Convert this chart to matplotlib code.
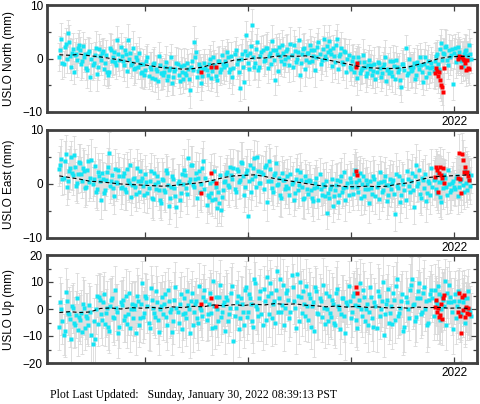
import numpy as np
import matplotlib
matplotlib.use('Agg')
import matplotlib.pyplot as plt
from matplotlib.ticker import MultipleLocator

plt.rcParams['font.family'] = ['Liberation Sans', 'DejaVu Sans']

# ---------------- data ----------------
# two interleaved sets of final (cyan) solutions, decimal years span
t_start_a, t_end_a = 2018.17, 2022.15
t_start_b, t_end_b = 2018.18, 2022.16

north_vals_a = [
    0.3, 3.6, -1.0, 2.8, 4.7, 0.5, 1.0, -2.6, 0.8, 2.0,
    1.6, -0.5, 0.2, -1.8, 1.0, -3.5, -1.2, 0.6, -2.9, 1.8,
    -0.3, 1.4, -0.8, -2.6, -2.5, 1.6, 0.2, -0.6, 3.4, -0.2,
    0.5, -1.3, 0.8, 3.4, 1.0, -0.8, -2.0, 0.2, -1.5, -1.0,
    -2.5, -3.1, -0.5, -3.3, -2.0, -1.0, -3.8, -2.4, 0.5, -2.7,
    -3.0, -1.5, -4.0, -2.2, 0.2, -3.5, -2.0, -1.0, -4.2, -2.6,
    -1.2, -3.0, -2.0, -5.8, -0.5, 3.1, 1.2, -2.4, -1.5, -3.2,
    -0.8, -2.2, -1.0, -3.6, 0.3, -1.6, -4.0, -0.5, -2.0, -1.0,
    -0.5, 1.2, -2.5, 0.4, -1.8, 1.5, -0.3, -5.5, 0.8, -4.4,
    4.4, -0.8, 1.0, 6.2, -1.5, 1.8, -2.2, 0.5, 1.5, -0.2,
    2.0, 0.5, -1.0, 1.5, -4.0, 0.8, 2.2, -0.5, 1.0, 0.0,
    1.8, -1.2, 0.6, 2.5, -0.6, 1.2, -3.0, 0.9, 2.0, -0.3,
    1.0, 2.6, -0.4, 1.5, 0.2, 3.0, -1.0, 1.8, 0.5, 2.4,
    3.2, 0.8, 1.9, -0.6, 3.6, 0.4, 2.0, -1.0, 1.2, 0.0,
    -1.5, -0.4, -2.5, -1.0, 0.2, -2.8, -1.8, -0.6, -3.2, -1.2,
    -2.0, -3.0, -1.0, -2.6, -0.8, -3.5, -1.5, 0.2, -2.2, -2.8,
    -2.5, -0.5, -3.8, -1.5, -2.0, -5.4, -1.0, 1.9, -2.8, -1.6,
    -2.2, -0.8, -3.0, -1.2, 0.3, -2.5, -1.0, -3.5, -0.4, -1.8,
    -1.5, -0.5, 0.8, -2.0, 2.9, 1.0, 2.2, -0.3, 1.5, 0.6,
    -4.8, 2.0, 0.5, 1.2, -0.5, 0.8, 1.6, 0.0, 0.9]
north_vals_b = [
    1.5, -0.8, 2.2, 0.0, 3.0, -1.5, 1.8, 0.6, -0.3, 2.6,
    -1.0, 2.3, 0.8, -2.2, 1.4, 0.0, -0.9, 2.0, -1.6, 0.4,
    1.0, -1.9, 0.6, -3.0, 2.0, -0.4, 1.2, -1.2, 0.9, 2.2,
    -0.5, 1.6, -2.4, 0.0, -1.2, 2.0, -1.8, -0.2, 1.0, -2.8,
    -1.0, -2.2, 0.2, -1.6, -3.6, -0.8, -2.0, -4.2, -1.2, -2.8,
    -2.5, -0.6, -3.3, -1.8, -4.5, -2.4, -0.8, -3.0, -1.4, -3.8,
    -2.8, -0.8, -3.8, -1.6, -2.2, 0.2, -3.4, -1.0, -4.6, -2.0,
    -1.8, -3.0, 0.0, -2.4, -1.2, -3.2, -0.4, -2.6, 0.6, -1.6,
    -1.2, 0.3, -2.0, -3.4, 0.8, -1.0, -2.6, 0.0, -1.6, 1.4,
    0.6, -2.0, 2.4, 0.2, -0.8, 3.0, -1.6, 1.2, -0.4, 2.0,
    -1.8, 1.0, 3.2, -0.2, 1.6, -2.4, 0.4, 2.6, -1.0, 1.4,
    0.2, 2.8, -1.6, 1.4, 0.0, 3.4, -0.8, 1.8, -2.0, 1.0,
    -0.6, 1.6, 0.4, -2.2, 2.2, 0.8, -0.2, 3.6, 0.0, 1.2,
    1.6, -1.4, 0.4, 2.6, -2.0, 0.8, -0.6, 1.4, -2.6, 0.6,
    -2.0, 0.2, -1.4, -3.6, -0.6, -2.2, 0.6, -1.6, -2.8, -0.2,
    -1.2, -2.4, -3.8, -0.6, -1.8, -2.8, -1.0, -4.2, -2.0, -0.4,
    -3.2, -1.4, -0.2, -2.6, -4.0, -1.0, -2.2, -3.0, 0.0, -2.4,
    -1.6, -3.8, -0.6, -2.0, -1.2, -4.4, 0.2, -1.6, -2.8, -0.8,
    -2.4, 0.4, -1.0, 1.8, -0.2, 0.8, 2.4, -1.2, 0.2, 1.8,
    1.0, -0.6, 2.2, 0.2, -1.4, 1.4, 0.6, 2.6, 0.0]

north_err_a = [
    2.6, 3.1, 2.4, 2.9, 2.5, 3.3, 2.7, 2.2, 3.0, 2.8,
    2.5, 3.2, 2.7, 2.3, 3.0, 2.6, 2.9, 2.4, 3.1, 2.7,
    2.8, 2.4, 3.0, 2.6, 2.5, 2.9, 3.2, 2.3, 2.7, 3.0,
    2.6, 2.9, 2.4, 3.1, 2.8, 2.5, 3.0, 2.7, 2.3, 2.9,
    3.0, 2.6, 2.8, 2.4, 3.2, 2.7, 2.5, 2.9, 2.6, 3.1,
    2.7, 2.4, 3.0, 2.8, 2.5, 3.3, 2.6, 2.9, 2.4, 2.8,
    3.1, 2.6, 2.8, 3.4, 2.5, 2.9, 2.7, 3.0, 2.4, 2.8,
    2.6, 3.0, 2.7, 2.5, 2.9, 2.4, 3.1, 2.8, 2.6, 3.0,
    2.8, 2.5, 3.0, 2.7, 3.2, 2.6, 2.9, 2.4, 2.8, 3.1,
    2.7, 3.3, 2.6, 3.0, 2.5, 2.8, 3.1, 2.4, 2.9, 2.7,
    3.0, 2.6, 2.9, 2.4, 2.8, 3.2, 2.5, 2.7, 3.0, 2.6,
    2.8, 3.1, 2.5, 2.9, 2.7, 2.4, 3.0, 2.6, 2.8, 3.2,
    2.6, 2.9, 3.1, 2.5, 2.8, 2.7, 3.0, 2.4, 2.9, 2.6,
    3.0, 2.7, 2.5, 3.2, 2.8, 2.6, 2.9, 3.1, 2.4, 2.8,
    2.7, 3.0, 2.6, 2.9, 2.5, 3.1, 2.8, 2.4, 3.0, 2.7,
    2.9, 2.5, 3.2, 2.7, 3.0, 2.6, 2.8, 3.3, 2.5, 2.9,
    2.6, 3.0, 2.8, 2.5, 3.1, 2.7, 2.9, 2.4, 3.0, 2.8,
    3.1, 2.7, 2.5, 2.9, 2.6, 3.2, 2.8, 2.4, 3.0, 2.7,
    2.8, 3.4, 2.6, 3.0, 2.7, 2.9, 3.3, 2.5, 3.1, 2.8,
    3.0, 2.6, 3.2, 2.8, 2.5, 3.1, 2.7, 2.9, 3.0]
north_err_b = [
    2.7, 3.0, 2.5, 2.8, 3.2, 2.6, 2.9, 2.4, 3.1, 2.7,
    3.0, 2.6, 2.8, 3.3, 2.5, 2.9, 2.7, 3.1, 2.4, 2.8,
    2.6, 3.1, 2.9, 2.5, 2.8, 3.0, 2.4, 2.7, 3.2, 2.6,
    2.9, 2.5, 3.0, 2.7, 2.4, 3.2, 2.8, 2.6, 3.0, 2.5,
    2.8, 3.1, 2.6, 2.9, 2.5, 3.0, 2.7, 3.3, 2.5, 2.9,
    2.6, 2.9, 2.7, 3.1, 2.4, 2.8, 3.0, 2.6, 3.2, 2.7,
    2.9, 2.5, 3.2, 2.7, 3.0, 2.4, 2.8, 2.6, 3.1, 2.9,
    2.7, 2.9, 2.5, 3.1, 2.8, 3.0, 2.6, 2.4, 2.9, 3.2,
    3.0, 2.7, 2.6, 3.2, 2.5, 2.8, 3.1, 2.7, 2.5, 2.9,
    2.6, 3.0, 2.8, 2.5, 3.1, 2.7, 2.4, 3.0, 2.8, 2.6,
    2.8, 2.5, 3.1, 2.7, 2.9, 2.6, 3.3, 2.8, 2.5, 3.0,
    2.7, 3.0, 2.6, 2.8, 3.2, 2.5, 2.9, 2.7, 3.1, 2.4,
    3.0, 2.6, 2.8, 3.1, 2.5, 2.9, 2.7, 2.6, 3.2, 2.8,
    2.6, 2.9, 3.1, 2.7, 2.5, 3.0, 2.8, 2.4, 2.9, 3.1,
    2.9, 2.6, 2.8, 3.2, 2.7, 2.5, 3.0, 2.9, 2.6, 2.8,
    2.7, 3.1, 2.6, 2.9, 2.5, 2.8, 3.2, 2.7, 3.0, 2.6,
    3.0, 2.7, 2.5, 3.0, 2.8, 2.6, 3.1, 2.9, 2.5, 3.2,
    2.8, 2.6, 3.1, 2.7, 3.0, 2.5, 2.9, 3.2, 2.7, 2.9,
    3.1, 2.7, 2.9, 2.6, 3.3, 2.8, 3.0, 2.7, 3.2, 2.6,
    2.9, 3.1, 2.7, 3.0, 2.8, 3.2, 2.6, 3.0, 2.8]

east_vals_a = [
    2.8, 4.6, 1.2, 5.5, 0.6, 3.0, 2.0, 5.3, -0.3, 1.8,
    3.8, 0.5, 2.4, -0.5, 4.2, 1.2, 0.0, 3.3, -1.0, 1.5,
    -3.0, 1.0, -1.2, 2.2, 5.8, 0.5, -0.8, 2.8, 0.2, 1.5,
    -0.6, 2.0, -1.5, 0.8, 3.5, -0.2, 1.2, -1.8, 0.5, 2.5,
    1.2, -2.0, 0.3, -0.8, 2.4, -2.8, 0.0, 1.5, -1.2, -3.5,
    0.8, -1.5, 2.0, -4.0, -0.5, 1.0, -2.2, 0.2, -3.0, 1.8,
    2.6, -0.8, 4.8, 1.0, 3.5, -0.5, 2.0, 1.2, -1.5, 3.0,
    -1.0, -3.9, -2.4, -1.7, 0.5, -2.8, -4.4, -3.5, -4.8, -1.2,
    0.5, 2.2, -0.5, 1.6, 3.0, -1.5, 2.5, 0.8, 3.8, -2.0,
    2.0, -6.0, 3.5, 1.0, 4.8, -0.5, 2.5, 0.2, 1.8, 3.2,
    -3.4, 4.2, 0.5, -1.5, 2.0, -0.2, 1.2, -2.5, 0.8, -1.0,
    1.5, -2.0, 0.0, -3.0, 1.0, -1.2, 2.2, -0.6, -2.5, 0.6,
    -1.8, 0.5, -2.5, -0.8, 1.2, -3.0, -1.0, 0.0, -2.2, -5.3,
    -2.6, -0.3, -4.0, -1.2, 0.8, -2.0, 1.5, -0.8, -3.0, 0.2,
    1.2, -0.5, 1.8, 0.4, -1.5, 2.0, 0.0, -2.2, 0.8, -1.0,
    0.5, -1.8, 1.0, -0.6, -2.8, 0.3, -1.2, 1.5, -3.2, -0.2,
    -1.0, 0.8, -5.6, -0.4, 1.5, -2.0, 0.0, -3.0, 1.0, -1.5,
    2.0, -4.3, 3.5, 0.2, -1.8, 1.2, -0.8, -3.2, 0.5, -2.0,
    -0.5, 1.0, -1.7, 0.3, -3.4, -0.8, 1.2, -2.0, 0.0, -1.2,
    0.5, -1.0, 1.5, -0.5, 1.0, -1.5, 0.2, 2.0, -0.3]
east_vals_b = [
    3.6, 1.0, 4.2, -0.5, 2.5, 5.0, 1.6, 3.2, 0.2, 4.0,
    1.8, 3.0, -0.8, 2.6, 0.4, 4.5, 1.0, -1.4, 2.2, 0.6,
    2.0, -1.6, 0.8, 3.2, -0.4, 1.6, -2.2, 0.4, 2.6, -0.8,
    1.4, -1.0, 2.8, 0.2, -2.4, 1.0, -0.6, 3.0, -1.4, 0.6,
    -0.4, 1.8, -1.6, 0.6, -2.6, 2.0, -1.0, 0.4, -3.0, 1.0,
    -1.2, 2.6, -0.2, -2.6, 1.4, -0.8, -4.2, 0.6, -1.6, 0.0,
    1.6, -1.8, 0.4, 3.6, -0.2, 1.0, -2.6, 2.4, 0.0, 4.2,
    1.2, -2.0, 0.2, -3.0, 2.4, -0.6, -1.4, 1.6, -2.4, 0.4,
    1.8, -0.2, 3.2, 1.0, -1.0, 2.8, 0.4, 4.0, 1.4, -0.6,
    2.6, 0.6, -1.4, 3.0, 1.4, 5.0, 0.2, 2.2, -1.0, 3.6,
    0.6, 2.8, -0.8, 1.6, 3.8, 0.0, -2.0, 2.0, 0.8, -0.4,
    -0.8, 1.8, 0.4, -1.6, 2.6, -0.2, 0.8, -2.8, 1.4, -1.0,
    0.8, -1.2, -3.2, 0.2, -0.6, 1.8, -2.0, -0.4, 0.6, -1.6,
    -1.0, 1.0, -2.2, -0.2, -3.4, 0.6, -1.4, 2.2, -0.6, -2.0,
    0.4, -1.8, 2.6, -0.6, 0.8, -2.6, 1.4, -1.0, 0.0, -3.6,
    -0.8, 1.4, -2.2, 0.2, 2.2, -1.4, 0.6, -0.2, -2.0, 1.0,
    0.2, -1.8, 1.8, -0.8, -3.4, 0.8, -1.2, 2.4, -0.4, 0.6,
    -1.2, 1.4, -0.4, 2.6, -2.6, 0.8, 1.8, -1.6, 0.2, 3.0,
    0.8, -1.0, 2.0, -2.4, 0.4, 1.6, -0.6, 2.6, -1.4, 0.2,
    -0.6, 1.2, -2.2, 0.6, -0.2, 2.4, -1.2, 0.8, 1.6]

east_err_a = [
    3.2, 3.8, 3.0, 3.5, 3.3, 4.0, 3.1, 3.6, 2.9, 3.4,
    3.6, 3.1, 3.9, 3.3, 3.0, 3.7, 3.2, 3.5, 3.8, 3.1,
    3.4, 3.0, 3.6, 3.2, 3.9, 3.3, 3.1, 3.7, 3.0, 3.5,
    3.1, 3.5, 3.3, 3.8, 3.0, 3.4, 3.6, 3.2, 3.9, 3.3,
    3.5, 3.2, 3.0, 3.6, 3.3, 3.9, 3.1, 3.4, 3.7, 3.2,
    3.3, 3.7, 3.1, 3.4, 3.0, 3.8, 3.2, 3.5, 3.1, 3.6,
    3.8, 3.2, 3.5, 3.0, 3.6, 3.3, 3.9, 3.1, 3.4, 3.7,
    3.0, 3.4, 3.2, 3.7, 3.1, 3.5, 3.3, 3.8, 3.0, 3.6,
    3.4, 3.1, 3.8, 3.2, 3.5, 3.0, 3.6, 3.3, 3.9, 3.2,
    3.2, 3.6, 3.0, 3.9, 3.3, 3.5, 3.1, 3.7, 3.4, 3.0,
    3.5, 3.2, 3.7, 3.1, 3.4, 3.8, 3.0, 3.6, 3.3, 3.5,
    3.1, 3.6, 3.3, 3.0, 3.8, 3.2, 3.5, 3.4, 3.9, 3.1,
    3.6, 3.0, 3.4, 3.7, 3.2, 3.5, 3.1, 3.8, 3.3, 3.0,
    3.3, 3.8, 3.1, 3.5, 3.0, 3.6, 3.4, 3.2, 3.9, 3.5,
    3.0, 3.5, 3.7, 3.2, 3.4, 3.1, 3.8, 3.3, 3.6, 3.0,
    3.7, 3.2, 3.4, 3.0, 3.6, 3.9, 3.1, 3.5, 3.3, 3.8,
    3.2, 3.5, 3.1, 3.8, 3.0, 3.4, 3.7, 3.3, 3.6, 3.1,
    3.6, 3.1, 3.9, 3.3, 3.5, 3.0, 3.4, 3.8, 3.2, 3.5,
    3.4, 3.9, 3.2, 3.6, 3.1, 3.8, 3.3, 3.5, 3.0, 3.7,
    3.5, 3.0, 3.7, 3.3, 3.9, 3.2, 3.6, 3.1, 3.4]
east_err_b = [
    3.5, 3.1, 3.7, 3.3, 3.9, 3.0, 3.6, 3.2, 3.8, 3.4,
    3.2, 3.7, 3.4, 3.0, 3.6, 3.9, 3.3, 3.1, 3.5, 3.8,
    3.7, 3.3, 3.0, 3.5, 3.2, 3.8, 3.4, 3.6, 3.1, 3.9,
    3.4, 3.8, 3.2, 3.6, 3.3, 3.0, 3.7, 3.5, 3.1, 3.6,
    3.1, 3.5, 3.8, 3.2, 3.7, 3.4, 3.0, 3.6, 3.3, 3.9,
    3.6, 3.0, 3.4, 3.8, 3.2, 3.5, 3.7, 3.1, 3.4, 3.3,
    3.3, 3.7, 3.1, 3.5, 3.9, 3.2, 3.6, 3.4, 3.0, 3.8,
    3.5, 3.2, 3.8, 3.0, 3.4, 3.7, 3.1, 3.5, 3.6, 3.2,
    3.1, 3.6, 3.3, 3.9, 3.0, 3.5, 3.2, 3.8, 3.4, 3.7,
    3.8, 3.3, 3.5, 3.1, 3.7, 3.0, 3.6, 3.2, 3.9, 3.4,
    3.2, 3.8, 3.0, 3.6, 3.3, 3.5, 3.9, 3.1, 3.7, 3.3,
    3.6, 3.4, 3.7, 3.2, 3.0, 3.8, 3.3, 3.5, 3.1, 3.6,
    3.3, 3.1, 3.6, 3.4, 3.8, 3.0, 3.7, 3.2, 3.5, 3.9,
    3.7, 3.5, 3.2, 3.9, 3.1, 3.4, 3.0, 3.6, 3.3, 3.2,
    3.4, 3.0, 3.8, 3.3, 3.6, 3.2, 3.5, 3.9, 3.1, 3.7,
    3.1, 3.7, 3.3, 3.5, 3.0, 3.6, 3.4, 3.2, 3.8, 3.5,
    3.5, 3.2, 3.9, 3.1, 3.6, 3.3, 3.0, 3.7, 3.4, 3.8,
    3.3, 3.6, 3.0, 3.7, 3.2, 3.9, 3.5, 3.1, 3.6, 3.4,
    3.6, 3.2, 3.5, 3.8, 3.3, 3.1, 3.7, 3.4, 3.9, 3.2,
    3.2, 3.7, 3.4, 3.0, 3.6, 3.5, 3.1, 3.8, 3.3]

up_vals_a = [
    -6.5, 0.0, -9.5, 6.3, -1.5, -3.8, 1.0, -5.0, -2.2, -7.8,
    -4.0, -8.5, 0.5, -2.5, -6.0, -1.0, -12.8, -11.0, 4.8, 4.5,
    -2.0, 2.5, -5.5, 0.2, -8.0, 3.5, -3.0, 7.2, -1.0, -6.5,
    1.5, -4.0, 5.0, -2.0, -7.0, 2.0, 0.0, -9.0, 3.0, -3.5,
    9.6, -1.5, 4.0, -5.0, 7.8, 0.5, -3.0, 2.5, -8.5, 1.0,
    -2.0, 5.5, -6.0, 3.0, 0.0, -4.5, 8.0, -1.0, 2.0, -7.5,
    4.0, -3.5, 1.5, -9.0, 6.0, -1.0, 3.0, -5.0, 0.5, -2.5,
    7.0, -4.0, 2.0, -1.5, 10.5, -6.5, 0.0, 4.5, -3.0, 1.5,
    -8.0, 3.5, -2.0, 6.0, -12.0, 0.5, 5.0, -3.5, 2.0, -6.0,
    8.0, -1.0, 4.0, -4.5, 11.0, 1.0, -2.5, 6.5, -6.0, 3.0,
    12.0, -2.0, 6.0, 2.0, -5.0, 14.0, 4.0, -1.0, 9.0, 0.5,
    7.0, -3.5, 12.5, 3.0, -7.0, 5.0, 10.0, -1.5, 2.0, 8.5,
    -4.0, 4.0, 1.0, -8.0, 6.5, -2.0, 3.0, 9.0, -5.5, 0.0,
    5.0, -3.0, 2.0, -6.0, 7.5, 0.0, -2.0, 4.0, -9.0, 1.5,
    3.0, -1.0, 6.0, -4.0, 1.0, 9.5, -2.5, 4.5, 0.0, -6.0,
    8.0, -3.5, 2.5, -7.0, 5.0, 0.0, 10.0, -2.0, 3.5, -5.0,
    1.0, 6.0, -4.0, 11.0, -1.5, 3.0, -8.0, 4.5, 0.0, 7.0,
    11.0, 2.0, -3.0, 6.5, 4.0, -1.0, 8.0, 3.0, -5.0, 5.5,
    4.0, 7.0, 2.0, 5.5, 0.0, 3.5, 10.5, 6.0, 9.0, 2.5,
    -7.4, 5.5, 1.0, 3.0, -2.0, 4.0, 0.5, 6.5, -1.0]
up_vals_b = [
    2.5, -4.5, -8.0, 3.0, -2.0, -11.0, 0.5, -6.0, 4.0, -3.0,
    -1.5, 2.0, -7.0, -3.5, 1.5, -9.5, -4.5, 0.0, -5.5, 3.5,
    -4.0, 5.5, -1.5, -6.5, 1.0, 4.0, -3.5, 0.5, -9.0, 2.5,
    3.5, -2.5, -5.5, 6.0, 0.0, -3.5, 1.5, 5.0, -6.0, 2.0,
    -3.0, 5.0, 1.0, -7.0, 3.5, -1.5, 6.5, -4.0, 0.0, 4.5,
    2.0, -3.0, 7.0, -1.0, -8.5, 3.5, 0.5, -5.0, 5.5, -2.0,
    -1.5, 6.5, 0.0, 3.0, -6.0, 2.0, -3.5, 8.5, -0.5, 4.5,
    3.0, -2.0, 6.0, -7.0, 1.0, 4.5, -4.5, 9.0, -1.0, 2.5,
    4.5, -4.5, 0.5, 8.5, -2.5, 2.5, -7.5, 4.0, -1.0, 7.0,
    -3.0, 5.5, 2.0, -6.5, 9.5, 0.0, 4.0, -2.0, 7.5, -4.0,
    5.0, 9.5, -3.5, 3.0, 7.0, -1.0, 11.0, 1.5, -6.0, 6.0,
    3.5, -1.0, 8.0, 0.5, 13.0, -4.5, 4.5, 6.5, -2.5, 1.0,
    5.5, -6.5, 2.5, 8.0, -1.5, 4.0, -3.0, 0.5, 6.0, -4.5,
    -1.5, 3.5, -5.0, 6.0, 1.0, -7.5, 4.0, -2.5, 2.5, 8.5,
    -3.5, 5.0, 1.5, -7.0, 3.5, 0.0, 7.0, -4.5, 2.0, -1.0,
    4.5, -6.5, 1.0, 6.5, -2.5, 3.0, -9.5, 2.0, 7.5, -1.5,
    -5.5, 3.5, 8.5, -2.5, 0.5, 5.5, -6.5, 2.5, -3.5, 9.0,
    1.5, -4.5, 4.0, 9.5, -2.0, 6.0, 0.0, -6.0, 3.5, 7.0,
    -2.5, 3.0, 8.5, -4.0, 5.0, 1.0, -6.0, 2.5, 4.5, -1.0,
    3.0, -3.5, 6.5, -1.5, 2.5, -5.0, 4.0, 0.0, -2.5]

up_err_a = [
    8.5, 9.8, 7.6, 9.0, 8.2, 10.4, 7.9, 9.3, 8.7, 9.6,
    9.1, 8.0, 10.2, 8.6, 7.8, 9.5, 8.3, 9.9, 7.7, 8.9,
    8.8, 9.7, 8.1, 10.0, 8.4, 7.9, 9.4, 8.6, 10.3, 8.0,
    9.2, 8.3, 9.8, 7.8, 9.0, 8.5, 10.1, 8.2, 9.6, 8.7,
    8.0, 9.5, 8.8, 10.2, 8.1, 9.3, 7.9, 9.7, 8.4, 9.0,
    9.6, 8.2, 9.1, 7.8, 10.0, 8.6, 9.4, 8.0, 9.8, 8.5,
    8.3, 10.1, 8.7, 9.2, 7.9, 9.6, 8.4, 10.3, 8.1, 9.0,
    9.4, 8.0, 9.9, 8.5, 9.1, 8.2, 10.2, 8.8, 9.3, 7.8,
    8.6, 9.7, 8.1, 9.4, 10.0, 8.3, 9.0, 7.9, 9.8, 8.5,
    9.9, 8.4, 9.2, 8.0, 10.4, 8.7, 9.5, 8.2, 9.1, 8.8,
    10.1, 8.5, 9.3, 8.9, 8.0, 10.3, 9.0, 8.3, 9.7, 8.6,
    9.0, 8.2, 10.0, 8.7, 9.5, 8.1, 9.8, 8.4, 9.2, 10.2,
    8.4, 9.6, 8.0, 9.9, 8.6, 9.1, 8.3, 10.0, 8.8, 9.4,
    9.3, 8.1, 9.7, 8.5, 10.1, 8.2, 9.0, 8.7, 9.8, 8.3,
    8.7, 9.4, 8.2, 10.0, 8.6, 9.2, 8.0, 9.6, 8.4, 9.9,
    9.5, 8.3, 9.0, 8.8, 10.2, 8.1, 9.7, 8.5, 9.3, 8.0,
    8.2, 9.8, 8.6, 9.3, 8.0, 10.1, 8.9, 9.4, 8.3, 9.7,
    9.7, 8.4, 9.1, 8.0, 9.6, 8.8, 10.0, 8.5, 9.2, 8.7,
    8.9, 9.5, 8.3, 9.9, 8.6, 10.2, 8.1, 9.4, 8.8, 9.0,
    9.2, 8.6, 9.8, 8.2, 9.5, 8.7, 9.1, 8.4, 9.6]
up_err_b = [
    9.2, 8.4, 9.7, 8.1, 10.0, 8.6, 9.3, 7.9, 9.5, 8.8,
    8.7, 9.9, 8.2, 9.4, 8.0, 10.2, 8.5, 9.1, 8.3, 9.6,
    9.5, 8.1, 9.0, 8.8, 10.1, 8.3, 9.7, 8.6, 9.2, 8.0,
    8.4, 9.6, 8.9, 8.2, 9.8, 8.5, 9.0, 10.3, 8.1, 9.3,
    9.7, 8.3, 10.0, 8.6, 9.1, 8.0, 9.4, 8.8, 9.9, 8.2,
    8.5, 9.3, 8.1, 9.7, 8.7, 10.1, 8.4, 9.0, 8.2, 9.6,
    9.1, 8.8, 9.5, 8.0, 9.9, 8.3, 9.2, 8.6, 10.0, 8.4,
    8.2, 9.6, 8.5, 10.2, 8.1, 9.4, 8.9, 9.0, 8.3, 9.8,
    9.8, 8.0, 9.1, 8.7, 9.5, 8.4, 10.1, 8.2, 9.3, 8.9,
    8.6, 9.4, 8.3, 9.8, 8.0, 9.2, 8.7, 10.0, 8.5, 9.1,
    9.3, 8.7, 10.2, 8.4, 9.0, 8.1, 9.6, 8.8, 9.4, 8.2,
    8.0, 9.5, 8.6, 9.1, 10.0, 8.3, 9.7, 8.5, 9.2, 8.9,
    9.6, 8.2, 9.3, 8.0, 9.8, 8.8, 9.1, 8.4, 10.1, 8.6,
    8.8, 9.9, 8.4, 9.5, 8.2, 9.0, 8.6, 9.7, 8.1, 9.3,
    9.0, 8.5, 9.8, 8.3, 9.4, 8.7, 10.2, 8.0, 9.6, 8.4,
    8.3, 9.1, 8.8, 10.0, 8.5, 9.5, 8.1, 9.2, 8.7, 9.9,
    9.4, 8.6, 9.0, 8.2, 9.7, 8.4, 9.3, 8.9, 8.1, 10.1,
    8.9, 9.2, 8.0, 9.6, 8.7, 9.1, 8.3, 9.8, 8.6, 9.4,
    9.1, 8.3, 9.7, 8.5, 10.0, 8.8, 9.2, 8.2, 9.5, 8.7,
    8.5, 9.6, 8.1, 9.3, 8.9, 9.0, 8.4, 9.7, 8.6]

# rapid (red) solutions
rapid_t = [2019.544, 2019.641, 2019.689, 2021.049, 2021.058,
           2021.816, 2021.826, 2021.835, 2021.845, 2021.855, 2021.864, 2021.874,
           2021.883, 2021.893, 2021.903,
           2022.039, 2022.049, 2022.058, 2022.068, 2022.078, 2022.087, 2022.097,
           2022.107, 2022.117, 2022.126, 2022.136, 2022.146]
north_rapid = [-2.5, -1.6, -1.6, -1.6, -0.8,
               -2.7, -1.8, -2.3, -3.3, -2.6, -4.0, -5.0, -5.4, -6.3, -1.8,
               0.0, 0.5, 0.3, -1.6, 0.2, 0.0, -0.3, -0.9, -2.2, -0.3, -1.8, -2.0]
east_rapid = [-1.7, 2.0, 0.2, 2.4, 1.7,
              1.3, 3.1, 2.6, -1.5, 2.0, 3.1, 1.7, 1.1, 3.0, 0.2,
              1.1, 5.7, 1.0, -1.7, 5.6, 4.5, 2.2, 3.2, 2.0, 2.2, 1.5, 0.8]
up_rapid = [2.0, 4.0, 1.0, 8.0, 6.0,
            0.7, 3.3, -1.1, 0.4, -3.0, -2.2, 1.9, -3.7, 4.1, 5.2,
            -1.1, 5.9, -2.6, -8.9, 4.4, -0.4, 5.2, -3.0, 0.7, -1.5, 0.2, -2.0]
north_rapid_err = [2.8, 3.0, 2.7, 2.9, 3.1, 3.0, 3.3, 2.8, 3.1, 2.9, 3.4, 3.0, 3.2, 3.5,
                   2.9, 3.1, 2.8, 3.3, 3.0, 2.9, 3.2, 2.7, 3.1, 3.0, 3.4, 2.8, 3.0]
east_rapid_err = [3.4, 3.6, 3.2, 3.5, 3.3, 3.8, 3.4, 3.6, 3.9, 3.3, 3.7, 3.5, 3.8, 3.4,
                  3.6, 3.9, 3.5, 3.7, 3.4, 3.8, 3.6, 3.3, 3.7, 3.5, 3.9, 3.4, 3.6]
up_rapid_err = [9.0, 9.4, 8.8, 9.6, 9.2, 9.8, 9.1, 10.2, 9.5, 9.9, 9.3, 10.0, 9.6, 9.2,
                9.8, 10.1, 9.4, 9.7, 10.3, 9.5, 9.9, 9.2, 9.8, 9.4, 10.0, 9.6, 9.3]

# model (dashed) curves, sampled every ~0.1 yr
north_model = [0.7, 0.6, 0.8, 0.5, 0.3, 0.0, -0.3, -0.7, -1.1, -1.4,
               -1.7, -1.8, -2.0, -1.9, -1.6, -1.0, -0.9, -0.3, -0.2, 0.1,
               0.1, 0.4, 0.5, 0.4, 0.5, 0.2, -0.2, -0.6, -1.0, -1.4,
               -1.7, -1.8, -1.9, -1.8, -1.6, -1.1, -0.6, 0.0, 0.3, 0.4, 0.4]
east_model = [1.5, 1.2, 0.9, 0.5, 0.4, 0.2, 0.0, -0.1, -0.2, -0.3,
              -0.4, -0.3, -0.1, 0.1, 0.3, 0.7, 1.2, 1.5, 1.6, 1.7,
              1.4, 1.0, 0.7, 0.4, 0.1, -0.2, -0.4, -0.3, -0.5, -0.5,
              -0.4, -0.5, -0.4, 0.0, 0.2, 0.7, 1.2, 1.4, 1.5, 1.6, 1.7]
up_model = [-1.3, -1.0, -1.3, -1.1, 0.2, 0.4, 0.0, 0.5, 0.3, 0.6,
            0.2, 0.8, 0.5, 1.0, 0.8, 1.5, 1.2, 1.6, 1.3, 1.8,
            1.5, 2.0, 1.7, 1.9, 1.4, 1.2, 0.8, 1.1, 0.7, 1.0,
            0.6, 0.8, 0.4, 0.6, 0.3, 0.7, 0.5, 0.6, 0.3, 0.4, 0.2]

labels = ['USLO North (mm)', 'USLO East (mm)', 'USLO Up (mm)']
ylims = [(-10, 10), (-10, 10), (-20, 20)]
year_ticks = [2019, 2020, 2021, 2022]
year_labels = ['', '', '', '2022']
footer = 'Plot Last Updated:   Sunday, January 30, 2022 08:39:13 PST'

# ---------------- plot ----------------
CYAN = '#14e4f4'
RED = '#ff0000'
ERR = '#d9d9d9'
FRAME = '#404040'

fig = plt.figure(figsize=(4.81, 4.04), dpi=100)
rects = [[47/481, 1-112/404, 430/481, 107/404],
         [47/481, 1-238/404, 430/481, 108/404],
         [47/481, 1-363/404, 430/481, 108/404]]

panels = [(north_vals_a, north_err_a, north_vals_b, north_err_b,
           north_rapid, north_rapid_err, north_model),
          (east_vals_a, east_err_a, east_vals_b, east_err_b,
           east_rapid, east_rapid_err, east_model),
          (up_vals_a, up_err_a, up_vals_b, up_err_b,
           up_rapid, up_rapid_err, up_model)]

eb_kw = dict(fmt='none', ecolor=ERR, elinewidth=0.6, capsize=1.5, capthick=0.6, zorder=1)
mk_kw = dict(linestyle='none', marker='s', ms=2.2, mec='none')

for i, (va, ea, vb, eb, rv, re, mod) in enumerate(panels):
    ax = fig.add_axes(rects[i])
    ta = np.linspace(t_start_a, t_end_a, len(va))
    tb = np.linspace(t_start_b, t_end_b, len(vb))
    tm = np.linspace(t_start_a, t_end_a, len(mod))
    ax.errorbar(ta, va, yerr=ea, **eb_kw)
    ax.errorbar(tb, vb, yerr=eb, **eb_kw)
    ax.errorbar(rapid_t, rv, yerr=re, **eb_kw)
    ax.plot(ta, va, mfc=CYAN, zorder=2, **mk_kw)
    ax.plot(tb, vb, mfc=CYAN, zorder=2, **mk_kw)
    ax.plot(rapid_t, rv, mfc=RED, zorder=3, **mk_kw)
    ax.plot(tm, mod, color='black', lw=0.8, dashes=(3.5, 2.5), zorder=4)

    ax.set_xlim(2018.05, 2022.22)
    ax.set_ylim(*ylims[i])
    ax.set_xticks(year_ticks)
    ax.set_xticklabels(year_labels)
    ax.yaxis.set_major_locator(MultipleLocator(10))
    ax.yaxis.set_minor_locator(MultipleLocator(5))
    ax.tick_params(which='both', direction='in', top=True, right=True,
                   color=FRAME, width=0.9, labelsize=8.5, pad=3)
    ax.tick_params(which='major', length=4.5)
    ax.tick_params(which='minor', length=3)
    ax.tick_params(axis='x', which='minor', length=0)
    for s in ax.spines.values():
        s.set_linewidth(2.0)
        s.set_color(FRAME)
    ax.set_ylabel(labels[i], fontsize=8.5)
    ax.yaxis.set_label_coords(-0.075, 0.5)

fig.text(50/481, 1-395/404, footer, family=['Liberation Serif', 'DejaVu Serif'],
         fontsize=8.5, va='center', ha='left')

fig.savefig('out.png', dpi=100)
